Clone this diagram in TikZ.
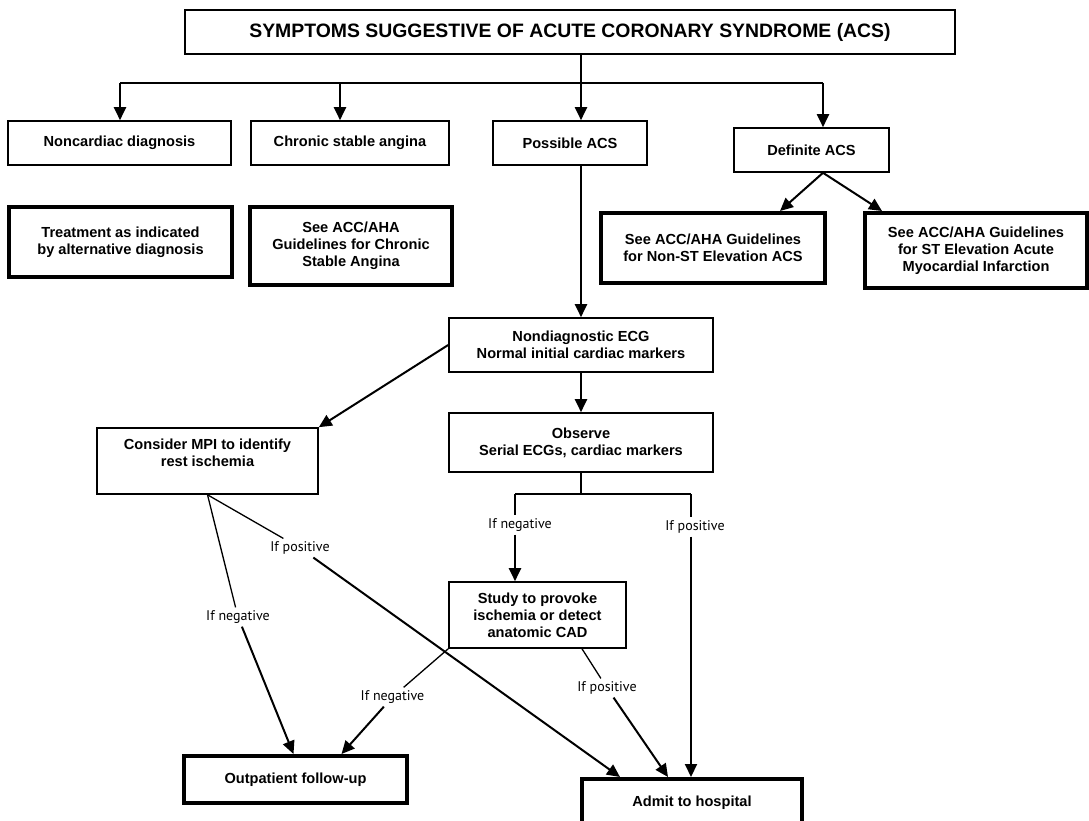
\documentclass[tikz,border=0pt]{standalone}
\usepackage{fontspec}
\setmainfont{Liberation Sans}
\newfontfamily\lblfont{PT Sans}
\usetikzlibrary{arrows.meta}
\begin{document}
\begin{tikzpicture}[x=1pt,y=-1pt,
  every node/.style={font=\bfseries\fontsize{14.6}{17}\selectfont, align=center, inner sep=0pt},
  box/.style={draw, line width=1.6pt},
  tbox/.style={draw, line width=4pt},
  conn/.style={line width=2pt},
  arr/.style={line width=2pt, -{Triangle[length=13pt,width=12pt]}},
  thinl/.style={line width=1.3pt},
  lbl/.style={font=\lblfont\fontsize{14}{16}\selectfont, inner sep=3pt}
]
\useasboundingbox (0,0) rectangle (1089,821);
\fill[white] (0,0) rectangle (1089,821);
\clip (0,0) rectangle (1089,821);

% boxes
\node[box, minimum width=770pt, minimum height=44pt, font=\bfseries\fontsize{19.4}{22}\selectfont] (title) at (570,32) {SYMPTOMS SUGGESTIVE OF ACUTE CORONARY SYNDROME (ACS)};
\node[box, minimum width=223pt, minimum height=44pt] (nonc) at (119.5,143) {Noncardiac diagnosis};
\node[box, minimum width=198pt, minimum height=44pt] (chron) at (350,143) {Chronic stable angina};
\node[box, minimum width=154pt, minimum height=44pt] (poss) at (570,143) {Possible ACS};
\node[box, minimum width=155pt, minimum height=44pt] (defi) at (811.5,150) {Definite ACS};
\node[tbox, minimum width=223pt, minimum height=70pt] (treat) at (120.5,242) {Treatment as indicated\\by alternative diagnosis};
\node[tbox, minimum width=202pt, minimum height=78pt] (chrg) at (351,246) {See ACC/AHA\\Guidelines for Chronic\\Stable Angina};
\node[tbox, minimum width=224pt, minimum height=70pt] (nonst) at (713,248) {See ACC/AHA Guidelines\\for Non-ST Elevation ACS};
\node[tbox, minimum width=222pt, minimum height=75pt] (st) at (976,250.5) {See ACC/AHA Guidelines\\for ST Elevation Acute\\Myocardial Infarction};
\node[box, minimum width=264pt, minimum height=54pt] (nondiag) at (581,345) {Nondiagnostic ECG\\Normal initial cardiac markers};
\node[box, minimum width=264pt, minimum height=59pt] (observe) at (581,442.5) {Observe\\Serial ECGs, cardiac markers};
\node[box, minimum width=221pt, minimum height=66pt] (mpi) at (207.5,461) {Consider MPI to identify\\rest ischemia\\~};
\node[box, minimum width=177pt, minimum height=66pt] (study) at (537.5,615) {Study to provoke\\ischemia or detect\\anatomic CAD};
\node[tbox, minimum width=223pt, minimum height=47pt] (out) at (295.5,779.5) {Outpatient follow-up};
\node[tbox, minimum width=220pt, minimum height=47pt] (admit) at (692,802.5) {Admit to hospital};

% labels
\node[lbl] (lneg1) at (238,617) {If negative};
\node[lbl] (lpos1) at (300,548) {If positive};
\node[lbl] (lneg2) at (520,525) {If negative};
\node[lbl] (lpos2) at (695,527) {If positive};
\node[lbl] (lneg3) at (392.5,697) {If negative};
\node[lbl] (lpos3) at (607,688) {If positive};

% top tree
\coordinate (jL) at (120,83);
\coordinate (jC) at (340,83);
\coordinate (jT) at (581,83);
\coordinate (jR) at (823,83);
\draw[conn] (jL) -- (jR);
\draw[arr] (jT |- title.south) -- (jT |- poss.north);
\draw[arr] (jL) -- (jL |- nonc.north);
\draw[arr] (jC) -- (jC |- chron.north);
\draw[arr] (jR) -- (jR |- defi.north);
\draw[arr] (jR |- defi.south) -- ([xshift=67]nonst.north);
\draw[arr] (jR |- defi.south) -- ([xshift=-94]st.north);

% main flow
\draw[arr] (jT |- poss.south) -- (nondiag.north);
\draw[arr] (nondiag.west) -- (mpi.north east);
\draw[arr] (nondiag.south) -- (observe.north);

% observe bracket
\coordinate (bL) at (515,494);
\coordinate (bR) at (691,494);
\draw[thinl] (observe.south) -- (observe.south |- bL);
\draw[thinl] (bL) -- (bR);
\draw[thinl] (bL) -- (bL |- lneg2.north);
\draw[arr] (bL |- lneg2.south) -- (bL |- study.north);
\draw[thinl] (bR) -- (bR |- lpos2.north);
\draw[arr] (bR |- lpos2.south) -- (bR |- admit.north);

% from MPI
\draw[thinl] (mpi.south) -- (lneg1);
\draw[arr] (lneg1) -- ([xshift=-2]out.north);
\draw[thinl] (mpi.south) -- (lpos1);
\draw[arr] (lpos1) -- ([xshift=40]admit.north west);

% from study
\draw[thinl] (study.south west) -- (lneg3);
\draw[arr] (lneg3) -- ([xshift=46]out.north);
\draw[thinl] ([xshift=44.5]study.south) -- (lpos3);
\draw[arr] (lpos3) -- ([xshift=-24]admit.north);
\end{tikzpicture}
\end{document}
